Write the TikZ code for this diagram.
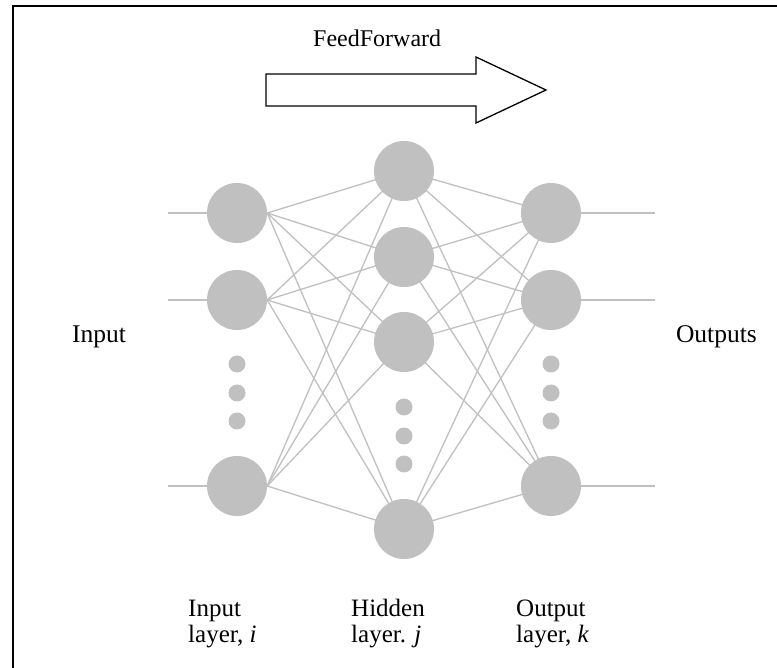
\documentclass[tikz,border=0pt]{standalone}
\usepackage{fontspec}
\setmainfont{Liberation Serif}
\usetikzlibrary{backgrounds}
\begin{document}
\begin{tikzpicture}[x=1pt,y=-1pt,
  neuron/.style={circle,fill=nngray,draw=none,minimum size=60pt,inner sep=0pt},
  dotn/.style={circle,fill=nngray,draw=none,minimum size=17pt,inner sep=0pt},
  link/.style={draw=nngray,line width=1.3pt},
  lbl/.style={anchor=base west,inner sep=0pt,font=\fontsize{24}{28}\selectfont},
  sidelbl/.style={inner sep=0pt,font=\fontsize{25.5}{28}\selectfont},
  sublbl/.style={anchor=base west,inner sep=0pt,font=\fontsize{25}{28}\selectfont}]
\definecolor{nngray}{RGB}{192,192,192}
\clip (0,0) rectangle (777,668);
% neurons
\node[neuron] (i1) at (237,213) {};
\node[neuron] (i2) at (237,300) {};
\node[neuron] (i3) at (237,486) {};
\node[neuron] (h1) at (404,171) {};
\node[neuron] (h2) at (404,257) {};
\node[neuron] (h3) at (404,342) {};
\node[neuron] (h4) at (404,529) {};
\node[neuron] (o1) at (551,213) {};
\node[neuron] (o2) at (551,300) {};
\node[neuron] (o3) at (551,486) {};
% free ends
\coordinate (in1) at (168,213); \coordinate (in2) at (168,300); \coordinate (in3) at (168,486);
\coordinate (out1) at (655,213); \coordinate (out2) at (655,300); \coordinate (out3) at (655,486);
\begin{scope}[on background layer]
\fill[white] (0,0) rectangle (777,668);
\foreach \a in {1,2,3}{
  \draw[link] (in\a) -- (i\a.center);
  \draw[link] (o\a.center) -- (out\a);
  \foreach \b in {1,2,3,4}{
    \draw[link] (i\a.east) -- (h\b.center);
    \draw[link] (h\b.center) -- (o\a.center);
  }
}
\end{scope}
% frame
\draw[line width=2pt] (13,6) rectangle (800,700);
% arrow
\draw[line width=1.3pt,line join=miter] (266,74) -- (476,74) -- (476,57) -- (546,90) -- (476,123) -- (476,106) -- (266,106) -- cycle;
\node[lbl] (ff) at (313,47) {FeedForward};
% dots
\node[dotn] (di1) at (237,364) {};
\node[dotn] (di2) at (237,393) {};
\node[dotn] (di3) at (237,421) {};
\node[dotn] (dh1) at (404,407) {};
\node[dotn] (dh2) at (404,436) {};
\node[dotn] (dh3) at (404,464) {};
\node[dotn] (do1) at (551,364) {};
\node[dotn] (do2) at (551,393) {};
\node[dotn] (do3) at (551,421) {};
% side labels
\node[sidelbl,anchor=base west] (inlab) at (72,343) {Input};
\node[sidelbl,anchor=base east] (outlab) at (757,343) {Outputs};
% layer labels
\node[sublbl] (l1a) at (188,616) {Input};
\node[sublbl] (l1b) at (188,642) {layer, \textit{i}};
\node[sublbl] (l2a) at (351,616) {Hidden};
\node[sublbl] (l2b) at (351,642) {layer. \textit{j}};
\node[sublbl] (l3a) at (516,616) {Output};
\node[sublbl] (l3b) at (516,642) {layer, \textit{k}};
\end{tikzpicture}
\end{document}
